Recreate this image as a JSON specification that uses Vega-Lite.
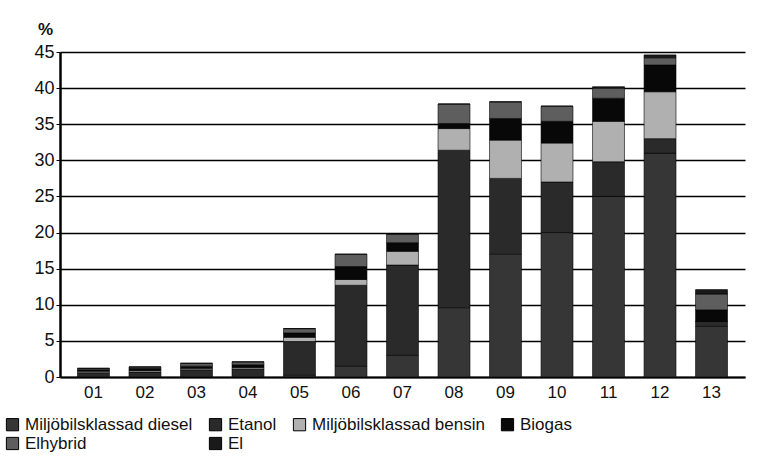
{
  "$schema": "https://vega.github.io/schema/vega-lite/v6.json",
  "width": 685,
  "height": 325,
  "autosize": {"type": "none"},
  "padding": {"left": 60, "top": 52, "right": 17, "bottom": 82},
  "background": "white",
  "config": {
    "font": "Liberation Sans",
    "view": {"stroke": null}
  },
  "data": {
    "values": [
      {"ar": "01", "typ": "Miljöbilsklassad diesel", "v": 0},
      {"ar": "01", "typ": "Etanol", "v": 0.6},
      {"ar": "01", "typ": "Miljöbilsklassad bensin", "v": 0.2},
      {"ar": "01", "typ": "Biogas", "v": 0.2},
      {"ar": "01", "typ": "Elhybrid", "v": 0.2},
      {"ar": "01", "typ": "El", "v": 0},
      {"ar": "02", "typ": "Miljöbilsklassad diesel", "v": 0},
      {"ar": "02", "typ": "Etanol", "v": 0.7},
      {"ar": "02", "typ": "Miljöbilsklassad bensin", "v": 0.2},
      {"ar": "02", "typ": "Biogas", "v": 0.3},
      {"ar": "02", "typ": "Elhybrid", "v": 0.2},
      {"ar": "02", "typ": "El", "v": 0},
      {"ar": "03", "typ": "Miljöbilsklassad diesel", "v": 0},
      {"ar": "03", "typ": "Etanol", "v": 1.0},
      {"ar": "03", "typ": "Miljöbilsklassad bensin", "v": 0.2},
      {"ar": "03", "typ": "Biogas", "v": 0.3},
      {"ar": "03", "typ": "Elhybrid", "v": 0.4},
      {"ar": "03", "typ": "El", "v": 0},
      {"ar": "04", "typ": "Miljöbilsklassad diesel", "v": 0},
      {"ar": "04", "typ": "Etanol", "v": 1.1},
      {"ar": "04", "typ": "Miljöbilsklassad bensin", "v": 0.2},
      {"ar": "04", "typ": "Biogas", "v": 0.4},
      {"ar": "04", "typ": "Elhybrid", "v": 0.4},
      {"ar": "04", "typ": "El", "v": 0},
      {"ar": "05", "typ": "Miljöbilsklassad diesel", "v": 0.3},
      {"ar": "05", "typ": "Etanol", "v": 4.6},
      {"ar": "05", "typ": "Miljöbilsklassad bensin", "v": 0.6},
      {"ar": "05", "typ": "Biogas", "v": 0.6},
      {"ar": "05", "typ": "Elhybrid", "v": 0.6},
      {"ar": "05", "typ": "El", "v": 0},
      {"ar": "06", "typ": "Miljöbilsklassad diesel", "v": 1.5},
      {"ar": "06", "typ": "Etanol", "v": 11.2},
      {"ar": "06", "typ": "Miljöbilsklassad bensin", "v": 0.8},
      {"ar": "06", "typ": "Biogas", "v": 1.8},
      {"ar": "06", "typ": "Elhybrid", "v": 1.7},
      {"ar": "06", "typ": "El", "v": 0},
      {"ar": "07", "typ": "Miljöbilsklassad diesel", "v": 3.0},
      {"ar": "07", "typ": "Etanol", "v": 12.5},
      {"ar": "07", "typ": "Miljöbilsklassad bensin", "v": 1.9},
      {"ar": "07", "typ": "Biogas", "v": 1.2},
      {"ar": "07", "typ": "Elhybrid", "v": 1.2},
      {"ar": "07", "typ": "El", "v": 0},
      {"ar": "08", "typ": "Miljöbilsklassad diesel", "v": 9.6},
      {"ar": "08", "typ": "Etanol", "v": 21.8},
      {"ar": "08", "typ": "Miljöbilsklassad bensin", "v": 3.0},
      {"ar": "08", "typ": "Biogas", "v": 0.7},
      {"ar": "08", "typ": "Elhybrid", "v": 2.7},
      {"ar": "08", "typ": "El", "v": 0},
      {"ar": "09", "typ": "Miljöbilsklassad diesel", "v": 17.0},
      {"ar": "09", "typ": "Etanol", "v": 10.5},
      {"ar": "09", "typ": "Miljöbilsklassad bensin", "v": 5.3},
      {"ar": "09", "typ": "Biogas", "v": 3.0},
      {"ar": "09", "typ": "Elhybrid", "v": 2.3},
      {"ar": "09", "typ": "El", "v": 0},
      {"ar": "10", "typ": "Miljöbilsklassad diesel", "v": 20.0},
      {"ar": "10", "typ": "Etanol", "v": 7.0},
      {"ar": "10", "typ": "Miljöbilsklassad bensin", "v": 5.4},
      {"ar": "10", "typ": "Biogas", "v": 3.0},
      {"ar": "10", "typ": "Elhybrid", "v": 2.1},
      {"ar": "10", "typ": "El", "v": 0},
      {"ar": "11", "typ": "Miljöbilsklassad diesel", "v": 25.0},
      {"ar": "11", "typ": "Etanol", "v": 4.8},
      {"ar": "11", "typ": "Miljöbilsklassad bensin", "v": 5.6},
      {"ar": "11", "typ": "Biogas", "v": 3.2},
      {"ar": "11", "typ": "Elhybrid", "v": 1.4},
      {"ar": "11", "typ": "El", "v": 0.2},
      {"ar": "12", "typ": "Miljöbilsklassad diesel", "v": 31.0},
      {"ar": "12", "typ": "Etanol", "v": 2.0},
      {"ar": "12", "typ": "Miljöbilsklassad bensin", "v": 6.5},
      {"ar": "12", "typ": "Biogas", "v": 3.7},
      {"ar": "12", "typ": "Elhybrid", "v": 1.0},
      {"ar": "12", "typ": "El", "v": 0.4},
      {"ar": "13", "typ": "Miljöbilsklassad diesel", "v": 7.0},
      {"ar": "13", "typ": "Etanol", "v": 0.7},
      {"ar": "13", "typ": "Miljöbilsklassad bensin", "v": 0},
      {"ar": "13", "typ": "Biogas", "v": 1.6},
      {"ar": "13", "typ": "Elhybrid", "v": 2.2},
      {"ar": "13", "typ": "El", "v": 0.6}
    ]
  },
  "transform": [
    {"calculate": "indexof(['Miljöbilsklassad diesel','Etanol','Miljöbilsklassad bensin','Biogas','Elhybrid','El'], datum.typ)", "as": "ordning"}
  ],
  "mark": {"type": "bar", "stroke": "#000", "strokeWidth": 0.6},
  "encoding": {
    "x": {
      "field": "ar",
      "type": "ordinal",
      "scale": {"paddingInner": 0.38, "paddingOuter": 0.34},
      "axis": {
        "title": null,
        "labelAngle": 0,
        "labelFontSize": 17,
        "labelColor": "#111",
        "labelPadding": 7,
        "domainColor": "#000",
        "domainWidth": 2,
        "ticks": false
      }
    },
    "y": {
      "field": "v",
      "type": "quantitative",
      "aggregate": "sum",
      "stack": "zero",
      "scale": {"domain": [0, 45], "nice": false},
      "axis": {
        "values": [0, 5, 10, 15, 20, 25, 30, 35, 40, 45],
        "title": "%",
        "titleAngle": 0,
        "titleFontSize": 17,
        "titleFontWeight": "bold",
        "titleColor": "#111",
        "titleX": -15,
        "titleY": -23,
        "titleAlign": "center",
        "titleBaseline": "middle",
        "labelFontSize": 18,
        "labelColor": "#111",
        "labelPadding": 2,
        "domainColor": "#000",
        "domainWidth": 2.5,
        "tickColor": "#000",
        "tickSize": 4,
        "grid": true,
        "gridColor": "#000",
        "gridWidth": 1.5
      }
    },
    "color": {
      "field": "typ",
      "type": "nominal",
      "sort": ["Miljöbilsklassad diesel", "Etanol", "Miljöbilsklassad bensin", "Biogas", "Elhybrid", "El"],
      "scale": {
        "domain": ["Miljöbilsklassad diesel", "Etanol", "Miljöbilsklassad bensin", "Biogas", "Elhybrid", "El"],
        "range": ["#363636", "#2a2a2a", "#b0b0b0", "#080808", "#5e5e5e", "#1a1a1a"]
      },
      "legend": {
        "title": null,
        "orient": "none",
        "legendX": -56,
        "legendY": 364,
        "direction": "horizontal",
        "columns": 4,
        "symbolType": "square",
        "symbolSize": 150,
        "symbolStrokeColor": "#000",
        "symbolStrokeWidth": 1,
        "labelFontSize": 17,
        "labelColor": "#111",
        "labelLimit": 300,
        "columnPadding": 14,
        "rowPadding": 1
      }
    },
    "order": {"field": "ordning", "type": "quantitative", "sort": "ascending"}
  }
}
